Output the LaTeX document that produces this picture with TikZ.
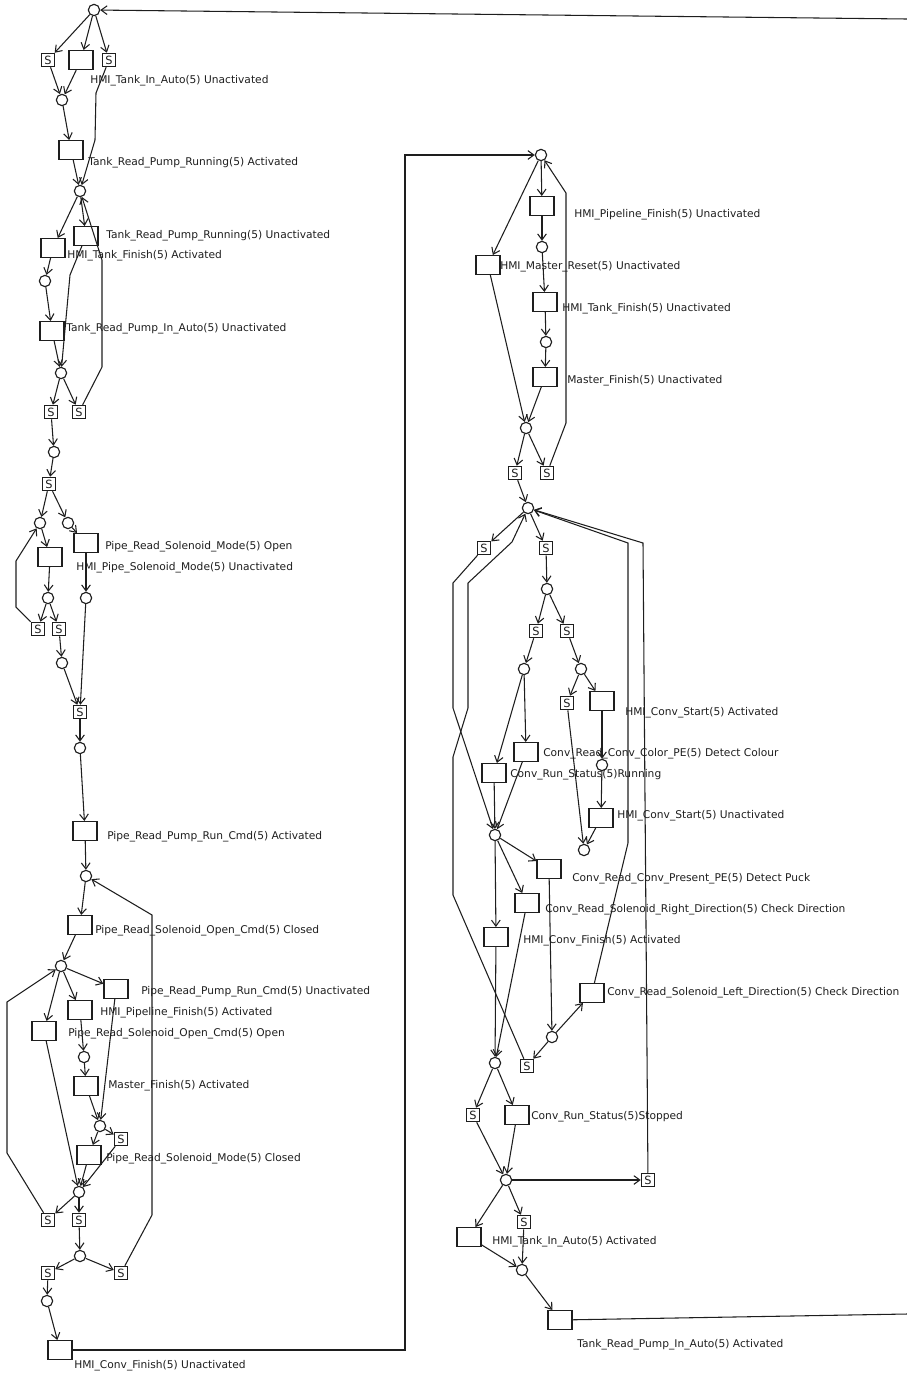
\documentclass[tikz,border=0pt]{standalone}
\usepackage{fontspec}
\setmainfont{DejaVu Sans}
\usetikzlibrary{arrows.meta}
\definecolor{NetInk}{RGB}{30, 30, 30}

\begin{document}
\begin{tikzpicture}[x=0.75pt, y=-0.75pt,
  place/.style={circle, draw=NetInk, line width=0.85pt, minimum size=8.5pt, inner sep=0pt},
  trans/.style={rectangle, draw=NetInk, line width=1pt, minimum width=18pt, minimum height=14pt, inner sep=0pt},
  sbox/.style={rectangle, draw=NetInk, line width=0.9pt, minimum size=10pt, inner sep=0pt, font=\fontsize{8.5}{8.5}\selectfont, text=NetInk},
  lbl/.style={anchor=west, inner sep=0pt, font=\fontsize{8}{9}\selectfont, text=NetInk},
  arc/.style={-{Straight Barb[length=4.5pt,width=6.5pt]}, draw=NetInk, line width=0.8pt}]

\useasboundingbox (0,0) rectangle (907,1375);

% Left column: tank
\node[place] (p0) at (94,10) {};
\node[sbox] (s1) at (48,60) {S};
\node[trans] (t1) at (81,60) {};
\node[sbox] (s2) at (109,60) {S};
\node[place] (p1) at (62,100) {};
\node[trans] (t2) at (71,150) {};
\node[place] (p2) at (80,191) {};
\node[trans] (t3) at (53,248) {};
\node[trans] (t4) at (86,236) {};
\node[place] (p3) at (45,281) {};
\node[trans] (t5) at (52,331) {};
\node[place] (p4) at (61,373) {};
\node[sbox] (s3) at (51,412) {S};
\node[sbox] (s4) at (79,412) {S};
\node[place] (p5) at (54,452) {};
\node[sbox] (s5) at (49,484) {S};

% Left column: pipeline
\node[place] (p6) at (40,523) {};
\node[place] (p7) at (68,523) {};
\node[trans] (t6) at (50,557) {};
\node[trans] (t7) at (86,543) {};
\node[place] (p8) at (48,598) {};
\node[place] (p9) at (86,598) {};
\node[sbox] (s6) at (38,629) {S};
\node[sbox] (s7) at (59,629) {S};
\node[place] (p10) at (62,663) {};
\node[sbox] (s8) at (80,712) {S};
\node[place] (p11) at (80,748) {};
\node[trans] (t8) at (85,831) {};
\node[place] (p12) at (86,876) {};
\node[trans] (t9) at (80,925) {};
\node[place] (p13) at (61,966) {};
\node[trans] (t10) at (116,989) {};
\node[trans] (t11) at (80,1010) {};
\node[trans] (t12) at (44,1031) {};
\node[place] (p14) at (84,1057) {};
\node[trans] (t13) at (86,1086) {};
\node[place] (p15) at (100,1126) {};
\node[sbox] (s9) at (121,1139) {S};
\node[trans] (t14) at (89,1155) {};
\node[place] (p16) at (79,1192) {};
\node[sbox] (s10) at (48,1220) {S};
\node[sbox] (s11) at (79,1220) {S};
\node[place] (p17) at (80,1256) {};
\node[sbox] (s12) at (48,1273) {S};
\node[sbox] (s13) at (121,1273) {S};
\node[place] (p18) at (47,1301) {};
\node[trans] (t15) at (60,1350) {};

% Left column labels
\node[lbl] (lt1) at (90,81) {HMI\_Tank\_In\_Auto(5) Unactivated};
\node[lbl] (lt2) at (88,163) {Tank\_Read\_Pump\_Running(5) Activated};
\node[lbl] (lt4) at (106,236) {Tank\_Read\_Pump\_Running(5) Unactivated};
\node[lbl] (lt3) at (67,256) {HMI\_Tank\_Finish(5) Activated};
\node[lbl] (lt5) at (66,329) {Tank\_Read\_Pump\_In\_Auto(5) Unactivated};
\node[lbl] (lt7) at (105,547) {Pipe\_Read\_Solenoid\_Mode(5) Open};
\node[lbl] (lt6) at (76,568) {HMI\_Pipe\_Solenoid\_Mode(5) Unactivated};
\node[lbl] (lt8) at (107,837) {Pipe\_Read\_Pump\_Run\_Cmd(5) Activated};
\node[lbl] (lt9) at (95,931) {Pipe\_Read\_Solenoid\_Open\_Cmd(5) Closed};
\node[lbl] (lt10) at (141,992) {Pipe\_Read\_Pump\_Run\_Cmd(5) Unactivated};
\node[lbl] (lt11) at (100,1013) {HMI\_Pipeline\_Finish(5) Activated};
\node[lbl] (lt12) at (68,1034) {Pipe\_Read\_Solenoid\_Open\_Cmd(5) Open};
\node[lbl] (lt13) at (108,1086) {Master\_Finish(5) Activated};
\node[lbl] (lt14) at (106,1159) {Pipe\_Read\_Solenoid\_Mode(5) Closed};
\node[lbl] (lt15) at (74,1366) {HMI\_Conv\_Finish(5) Unactivated};

% Left column arcs
\draw[arc] (p0) -- (s1);
\draw[arc] (p0) -- (t1);
\draw[arc] (p0) -- (s2);
\draw[arc] (s1) -- (p1);
\draw[arc] (t1) -- (p1);
\draw[arc] (s2) -- (96,93) -- (95,140) -- (p2);
\draw[arc] (p1) -- (t2);
\draw[arc] (t2) -- (p2);
\draw[arc] (p2) -- (t3);
\draw[arc] (p2) -- (t4);
\draw[arc] (t3) -- (p3);
\draw[arc] (p3) -- (t5);
\draw[arc] (t4) -- (70,275) -- (p4);
\draw[arc] (t5) -- (p4);
\draw[arc] (p4) -- (s3);
\draw[arc] (p4) -- (s4);
\draw[arc] (s4) -- (102,367) -- (102,260) -- (p2);
\draw[arc] (s3) -- (p5);
\draw[arc] (p5) -- (s5);
\draw[arc] (s5) -- (p6);
\draw[arc] (s5) -- (p7);
\draw[arc] (p6) -- (t6);
\draw[arc] (p7) -- (t7);
\draw[arc] (t6) -- (p8);
\draw[arc] (t7) -- (p9);
\draw[arc] (p8) -- (s6);
\draw[arc] (p8) -- (s7);
\draw[arc] (s6) -- (16,607) -- (16,561) -- (p6);
\draw[arc] (s7) -- (p10);
\draw[arc] (p10) -- (s8);
\draw[arc] (p9) -- (s8);
\draw[arc] (s8) -- (p11);
\draw[arc] (p11) -- (t8);
\draw[arc] (t8) -- (p12);
\draw[arc] (p12) -- (t9);
\draw[arc] (t9) -- (p13);
\draw[arc] (s13) -- (152,1215) -- (152,915) -- (p12);
\draw[arc] (p13) -- (t10);
\draw[arc] (p13) -- (t11);
\draw[arc] (p13) -- (t12);
\draw[arc] (s10) -- (7,1153) -- (7,1002) -- (p13);
\draw[arc] (t11) -- (p14);
\draw[arc] (p14) -- (t13);
\draw[arc] (t13) -- (p15);
\draw[arc] (t10) -- (p15);
\draw[arc] (p15) -- (s9);
\draw[arc] (p15) -- (t14);
\draw[arc] (t12) -- (p16);
\draw[arc] (t14) -- (p16);
\draw[arc] (s9) -- (p16);
\draw[arc] (p16) -- (s10);
\draw[arc] (p16) -- (s11);
\draw[arc] (s11) -- (p17);
\draw[arc] (p17) -- (s12);
\draw[arc] (p17) -- (s13);
\draw[arc] (s12) -- (p18);
\draw[arc] (p18) -- (t15);

% Right column: master
\node[place] (r0) at (541,155) {};
\node[trans] (u1) at (542,206) {};
\node[place] (r1) at (542,247) {};
\node[trans] (u2) at (488,265) {};
\node[trans] (u3) at (545,302) {};
\node[place] (r2) at (546,342) {};
\node[trans] (u4) at (545,377) {};
\node[place] (r3) at (526,428) {};
\node[sbox] (q1) at (515,473) {S};
\node[sbox] (q2) at (547,473) {S};

% Right column: conveyor
\node[place] (r4) at (528,508) {};
\node[sbox] (q3) at (484,548) {S};
\node[sbox] (q4) at (546,548) {S};
\node[place] (r5) at (547,589) {};
\node[sbox] (q5) at (536,631) {S};
\node[sbox] (q6) at (567,631) {S};
\node[place] (r6) at (524,669) {};
\node[place] (r7) at (581,669) {};
\node[sbox] (q7) at (567,703) {S};
\node[trans] (u5) at (602,701) {};
\node[trans] (u6) at (526,752) {};
\node[place] (r8) at (602,765) {};
\node[trans] (u7) at (494,773) {};
\node[trans] (u8) at (601,818) {};
\node[place] (r9) at (495,835) {};
\node[place] (r10) at (584,850) {};
\node[trans] (u9) at (549,869) {};
\node[trans] (u10) at (527,903) {};
\node[trans] (u11) at (496,937) {};
\node[trans] (u12) at (592,993) {};
\node[place] (r11) at (552,1037) {};
\node[place] (r12) at (495,1063) {};
\node[sbox] (q8) at (527,1066) {S};
\node[sbox] (q9) at (473,1115) {S};
\node[trans] (u13) at (517,1115) {};
\node[place] (r13) at (506,1180) {};
\node[sbox] (q10) at (648,1180) {S};
\node[trans] (u14) at (469,1237) {};
\node[sbox] (q11) at (524,1222) {S};
\node[place] (r14) at (522,1270) {};
\node[trans] (u15) at (560,1320) {};

% Right column labels
\node[lbl] (lu1) at (574,215) {HMI\_Pipeline\_Finish(5) Unactivated};
\node[lbl] (lu2) at (500,267) {HMI\_Master\_Reset(5) Unactivated};
\node[lbl] (lu3) at (562,309) {HMI\_Tank\_Finish(5) Unactivated};
\node[lbl] (lu4) at (567,381) {Master\_Finish(5) Unactivated};
\node[lbl] (lu5) at (625,713) {HMI\_Conv\_Start(5) Activated};
\node[lbl] (lu6) at (543,754) {Conv\_Read\_Conv\_Color\_PE(5) Detect Colour};
\node[lbl] (lu7) at (510,775) {Conv\_Run\_Status(5)Running};
\node[lbl] (lu8) at (617,816) {HMI\_Conv\_Start(5) Unactivated};
\node[lbl] (lu9) at (572,879) {Conv\_Read\_Conv\_Present\_PE(5) Detect Puck};
\node[lbl] (lu10) at (545,910) {Conv\_Read\_Solenoid\_Right\_Direction(5) Check Direction};
\node[lbl] (lu11) at (523,941) {HMI\_Conv\_Finish(5) Activated};
\node[lbl] (lu12) at (607,993) {Conv\_Read\_Solenoid\_Left\_Direction(5) Check Direction};
\node[lbl] (lu13) at (531,1117) {Conv\_Run\_Status(5)Stopped};
\node[lbl] (lu14) at (492,1242) {HMI\_Tank\_In\_Auto(5) Activated};
\node[lbl] (lu15) at (577,1345) {Tank\_Read\_Pump\_In\_Auto(5) Activated};

% Right column arcs
\draw[arc] (t15) -- (405,1350) -- (405,155) -- (r0);
\draw[arc] (r0) -- (u1);
\draw[arc] (u1) -- (r1);
\draw[arc] (r1) -- (u3);
\draw[arc] (u3) -- (r2);
\draw[arc] (r2) -- (u4);
\draw[arc] (u4) -- (r3);
\draw[arc] (r0) -- (u2);
\draw[arc] (u2) -- (r3);
\draw[arc] (r3) -- (q1);
\draw[arc] (r3) -- (q2);
\draw[arc] (q2) -- (566,423) -- (566,193) -- (r0);
\draw[arc] (q1) -- (r4);
\draw[arc] (r4) -- (q3);
\draw[arc] (r4) -- (q4);
\draw[arc] (q3) -- (453,583) -- (453,708) -- (r9);
\draw[arc] (q8) -- (453,895) -- (453,757) -- (468,708) -- (468,583) -- (512,542) -- (r4);
\draw[arc] (u12) -- (628,843) -- (628,543) -- (r4);
\draw[arc] (q10) -- (643,543) -- (r4);
\draw[arc] (q4) -- (r5);
\draw[arc] (r5) -- (q5);
\draw[arc] (r5) -- (q6);
\draw[arc] (q5) -- (r6);
\draw[arc] (q6) -- (r7);
\draw[arc] (r7) -- (q7);
\draw[arc] (r7) -- (u5);
\draw[arc] (r6) -- (u6);
\draw[arc] (r6) -- (u7);
\draw[arc] (u5) -- (r8);
\draw[arc] (r8) -- (u8);
\draw[arc] (q7) -- (r10);
\draw[arc] (u8) -- (r10);
\draw[arc] (u6) -- (r9);
\draw[arc] (u7) -- (r9);
\draw[arc] (r9) -- (u9);
\draw[arc] (r9) -- (u10);
\draw[arc] (r9) -- (u11);
\draw[arc] (u9) -- (r11);
\draw[arc] (r11) -- (u12);
\draw[arc] (r11) -- (q8);
\draw[arc] (u10) -- (r12);
\draw[arc] (u11) -- (r12);
\draw[arc] (r12) -- (q9);
\draw[arc] (r12) -- (u13);
\draw[arc] (q9) -- (r13);
\draw[arc] (u13) -- (r13);
\draw[arc] (r13) -- (q10);
\draw[arc] (r13) -- (u14);
\draw[arc] (r13) -- (q11);
\draw[arc] (u14) -- (r14);
\draw[arc] (q11) -- (r14);
\draw[arc] (r14) -- (u15);

% Wrap-around arcs leaving the right edge
\coordinate (wrapin) at (907,19);
\coordinate (wrapout) at (907,1314);
\draw[arc] (wrapin) -- (p0);
\draw[NetInk, line width=0.8pt] (u15) -- (wrapout);

\end{tikzpicture}
\end{document}
